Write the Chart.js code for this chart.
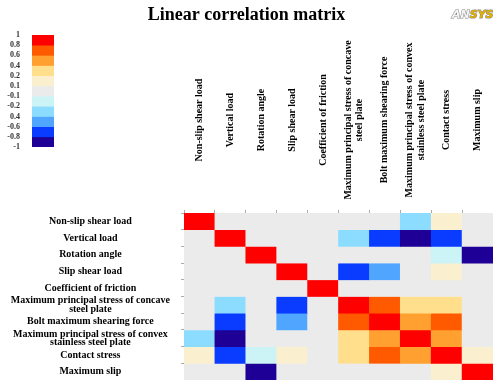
<!DOCTYPE html>
<html>
<head>
<meta charset="utf-8">
<title>Linear correlation matrix</title>
<script src="https://cdn.jsdelivr.net/npm/chart.js@4.4.1/dist/chart.umd.min.js"></script>
<style>
  html, body { margin: 0; padding: 0; background: #fff; overflow: hidden; }
  #wrap { position: relative; width: 493px; height: 380px; }
  #matrix, #scale { position: absolute; left: 0; top: 0; }
</style>
</head>
<body>
<div id="wrap">
  <canvas id="matrix" width="493" height="380"></canvas>
  <canvas id="scale" width="60" height="160"></canvas>
</div>
<script>
// Variables in matrix order (rows top to bottom, columns left to right)
const variableLabels = [
  'Non-slip shear load',
  'Vertical load',
  'Rotation angle',
  'Slip shear load',
  'Coefficient of friction',
  ['Maximum principal stress of concave', 'steel plate'],
  'Bolt maximum shearing force',
  ['Maximum principal stress of convex', 'stainless steel plate'],
  'Contact stress',
  'Maximum slip'
];

// Correlation coefficients, one row per variable
const nonSlipShearLoad    = [1, 0, 0, 0, 0, 0, 0, -0.3, 0.15, 0];
const verticalLoad        = [0, 1, 0, 0, 0, -0.3, -0.7, -0.9, -0.7, 0];
const rotationAngle       = [0, 0, 1, 0, 0, 0, 0, 0, -0.15, -0.9];
const slipShearLoad       = [0, 0, 0, 1, 0, -0.7, -0.5, 0, 0.15, 0];
const frictionCoefficient = [0, 0, 0, 0, 1, 0, 0, 0, 0, 0];
const concavePlateStress  = [0, -0.3, 0, -0.7, 0, 1, 0.7, 0.3, 0.3, 0];
const boltShearForce      = [0, -0.7, 0, -0.5, 0, 0.7, 1, 0.5, 0.7, 0];
const convexPlateStress   = [-0.3, -0.9, 0, 0, 0, 0.3, 0.5, 1, 0.5, 0];
const contactStress       = [0.15, -0.7, -0.15, 0.15, 0, 0.3, 0.7, 0.5, 1, 0.15];
const maximumSlip         = [0, 0, -0.9, 0, 0, 0, 0, 0, 0.15, 1];

const matrixRows = [
  nonSlipShearLoad, verticalLoad, rotationAngle, slipShearLoad, frictionCoefficient,
  concavePlateStress, boltShearForce, convexPlateStress, contactStress, maximumSlip
];

// Colour scale: band edges (top to bottom), their colours and printed labels
const bandEdges = [1, 0.8, 0.6, 0.4, 0.2, 0.1, -0.1, -0.2, -0.4, -0.6, -0.8, -1];
const bandColors = ['#ff0000', '#ff5a00', '#ffa030', '#ffdf8c', '#faf0cf', '#ebebeb',
                    '#ccf4f6', '#8cdcff', '#50a5ff', '#0a3cff', '#1e0096'];
const colorbarTicks = ['1', '0.8', '0.6', '0.4', '0.2', '0.1', '-0.1', '-0.2', '0.4', '-0.6', '-0.8', '-1'];

function colorFor(v) {
  for (let k = 0; k < bandColors.length; k++) {
    if (v >= bandEdges[k + 1]) return bandColors[k];
  }
  return bandColors[bandColors.length - 1];
}

const SERIF = '"Liberation Serif", "Times New Roman", serif';

// Rotated column headings and the logo
const headerPlugin = {
  id: 'headers',
  afterDraw(chart) {
    const ctx = chart.ctx;
    const xs = chart.scales.x;
    ctx.save();
    ctx.font = 'bold 10px ' + SERIF;
    ctx.fillStyle = '#000';
    ctx.textAlign = 'center';
    ctx.textBaseline = 'middle';
    variableLabels.forEach((lab, j) => {
      const lines = [].concat(lab);
      ctx.save();
      ctx.translate(xs.getPixelForValue(j), 120);
      ctx.rotate(-Math.PI / 2);
      lines.forEach((t, k) => ctx.fillText(t, 0, (k - (lines.length - 1) / 2) * 11.7));
      ctx.restore();
    });

    ctx.font = 'italic bold 11px "DejaVu Sans", sans-serif';
    ctx.textAlign = 'left';
    ctx.textBaseline = 'alphabetic';
    ctx.lineWidth = 1.1;
    ctx.strokeStyle = '#8a8a8a';
    ctx.fillStyle = '#f4f4f4';
    ctx.strokeText('AN', 452, 18);
    ctx.fillText('AN', 452, 18);
    const w = ctx.measureText('AN').width;
    ctx.fillStyle = '#e2b000';
    ctx.strokeText('SYS', 452 + w, 18);
    ctx.fillText('SYS', 452 + w, 18);
    ctx.restore();
  }
};

new Chart(document.getElementById('matrix'), {
  type: 'bar',
  data: {
    labels: variableLabels,
    datasets: matrixRows.map((row, i) => ({
      label: [].concat(variableLabels[i]).join(' '),
      data: row.map((v, j) => ({ x: j, y: 1, r: v })),
      backgroundColor: ctx => colorFor(ctx.raw ? ctx.raw.r : 0)
    }))
  },
  options: {
    responsive: false,
    animation: false,
    devicePixelRatio: 1,
    layout: { padding: 0 },
    datasets: { bar: { barPercentage: 1, categoryPercentage: 1, borderWidth: 0 } },
    plugins: {
      legend: { display: false },
      tooltip: { enabled: false },
      title: {
        display: true,
        text: 'Linear correlation matrix',
        color: '#000',
        font: { family: SERIF, size: 18, weight: 'bold' },
        padding: { top: 5, bottom: 6 }
      }
    },
    scales: {
      x: {
        type: 'category',
        position: 'top',
        stacked: true,
        offset: true,
        ticks: { display: false },
        grid: { offset: true, drawOnChartArea: false, tickLength: 3, color: '#aaa' },
        border: { color: '#bbb' },
        afterFit(s) {
          s.height = 213 - 32.6;
          s.paddingLeft = 0; s.paddingRight = 0;
        }
      },
      y: {
        type: 'linear',
        display: false,
        stacked: true,
        min: 0,
        max: 10,
        reverse: true
      },
      rowAxis: {
        axis: 'y',
        type: 'category',
        position: 'left',
        labels: variableLabels,
        offset: true,
        grid: { offset: true, drawOnChartArea: false, tickLength: 3, color: '#aaa' },
        border: { color: '#bbb' },
        ticks: {
          autoSkip: false,
          crossAlign: 'center',
          padding: 11,
          color: '#000',
          font: { family: SERIF, size: 10, weight: 'bold', lineHeight: 0.85 }
        },
        afterFit(s) {
          s.width = 184;
          s.paddingTop = 0; s.paddingBottom = 0;
        }
      }
    }
  },
  plugins: [headerPlugin]
});

// Colour bar
new Chart(document.getElementById('scale'), {
  type: 'bar',
  data: {
    labels: [''],
    datasets: bandColors.map((c, k) => ({
      data: [[k, k + 1]],
      backgroundColor: c
    }))
  },
  options: {
    responsive: false,
    animation: false,
    devicePixelRatio: 1,
    layout: { padding: { top: 35, right: 6, bottom: 13, left: 0 } },
    datasets: { bar: { barPercentage: 1, categoryPercentage: 1, grouped: false, borderWidth: 0 } },
    plugins: { legend: { display: false }, tooltip: { enabled: false } },
    scales: {
      x: { display: false },
      y: {
        min: 0,
        max: 11,
        reverse: true,
        grid: { display: false },
        border: { display: false },
        afterBuildTicks(s) { s.ticks = colorbarTicks.map((_, i) => ({ value: i })); },
        ticks: {
          autoSkip: false,
          padding: 4,
          color: '#333',
          font: { family: SERIF, size: 8, weight: 'bold' },
          callback: (v, i) => colorbarTicks[i]
        },
        afterFit(s) {
          s.width = 32;
          s.paddingTop = 0; s.paddingBottom = 0;
        }
      }
    }
  }
});
</script>
</body>
</html>
